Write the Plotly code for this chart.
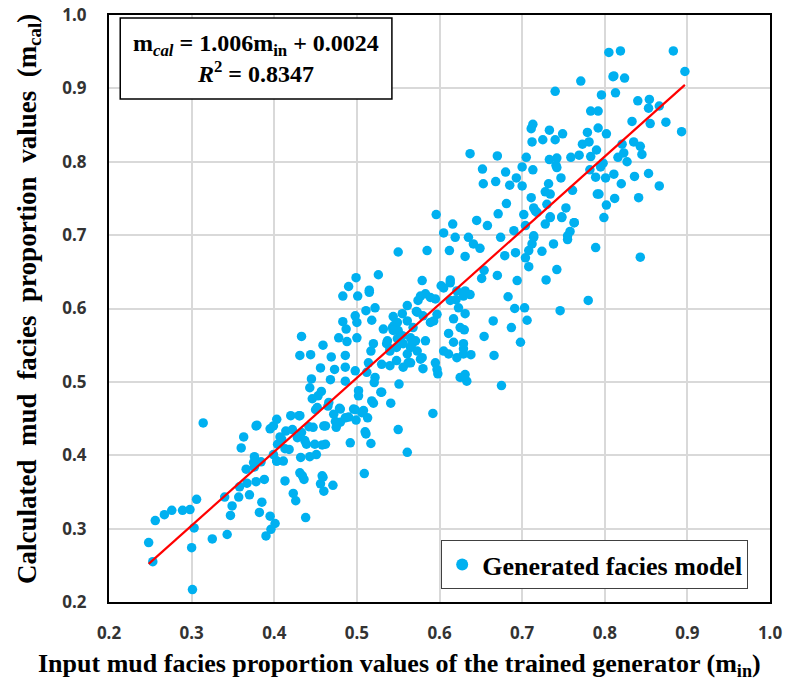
import plotly.graph_objects as go

# values (input m_in, calculated m_cal)
x_in = [
    0.314, 0.248, 0.253, 0.256, 0.267, 0.276, 0.289, 0.298, 0.306, 0.303, 0.300, 0.301,
    0.325, 0.343, 0.347, 0.349, 0.340, 0.357, 0.370, 0.358, 0.367, 0.378, 0.388, 0.385,
    0.382, 0.395, 0.401, 0.396, 0.390, 0.366, 0.376, 0.376, 0.384, 0.360, 0.363, 0.378,
    0.395, 0.403, 0.420, 0.430, 0.399, 0.404, 0.409, 0.414, 0.418, 0.403, 0.411, 0.413,
    0.423, 0.426, 0.438, 0.432, 0.431, 0.436, 0.428, 0.433, 0.439, 0.447, 0.449, 0.451,
    0.460, 0.462, 0.458, 0.456, 0.460, 0.452, 0.465,
    # middle band
    0.490, 0.483, 0.501, 0.515, 0.511, 0.522, 0.498, 0.500, 0.483, 0.487, 0.518, 0.532,
    0.433, 0.459, 0.478, 0.488, 0.500, 0.431, 0.444, 0.469, 0.486, 0.456, 0.473, 0.486,
    0.498, 0.517, 0.520, 0.512, 0.522, 0.521, 0.514, 0.530, 0.445, 0.468, 0.486, 0.443,
    0.457, 0.453, 0.446, 0.450, 0.466, 0.479, 0.498, 0.508, 0.502, 0.520, 0.530, 0.541,
    0.592, 0.550, 0.561, 0.517, 0.492, 0.511, 0.509, 0.379, 0.399, 0.407, 0.431, 0.422,
    0.442, 0.462, 0.474, 0.486, 0.437, 0.458, 0.413, 0.443, 0.403, 0.375, 0.434, 0.459,
    # lower middle
    0.675, 0.633, 0.551, 0.529, 0.502, 0.518, 0.510, 0.471, 0.496, 0.506, 0.513, 0.499,
    0.490, 0.480, 0.480, 0.475, 0.472,
    # upper middle
    0.653, 0.668, 0.685, 0.700, 0.728, 0.734, 0.732, 0.761, 0.791, 0.711, 0.681, 0.702,
    0.716, 0.734, 0.748, 0.763, 0.755, 0.738, 0.724, 0.742, 0.729, 0.780, 0.746, 0.789,
    0.596, 0.616, 0.645, 0.658, 0.671, 0.605, 0.619, 0.635, 0.641, 0.674, 0.690, 0.704,
    0.714, 0.708, 0.550, 0.585, 0.612, 0.631, 0.649, 0.654, 0.679, 0.692, 0.704, 0.708,
    0.670, 0.694, 0.651, 0.613, 0.602, 0.579, 0.577, 0.589, 0.631, 0.637, 0.620, 0.561,
    0.555, 0.545, 0.572, 0.593, 0.617, 0.631, 0.683, 0.691, 0.703, 0.706, 0.665, 0.687,
    0.630, 0.654, 0.698, 0.666, 0.629, 0.638, 0.611, 0.597, 0.631, 0.583, 0.579, 0.567,
    0.562, 0.537, 0.540, 0.540,
    # dense centre
    0.544, 0.549, 0.543, 0.550, 0.555, 0.549, 0.544, 0.561, 0.568, 0.565, 0.571, 0.573,
    0.580, 0.589, 0.597, 0.574, 0.583, 0.595, 0.605, 0.613, 0.621, 0.629, 0.613, 0.623,
    0.536, 0.540, 0.548, 0.556, 0.565, 0.561, 0.573, 0.548, 0.556, 0.565, 0.577, 0.580,
    0.598, 0.595, 0.605, 0.621, 0.629, 0.625, 0.611, 0.625, 0.629, 0.617,
    0.499, 0.526, 0.515,
    0.637, 0.670, 0.652, 0.680, 0.693, 0.700,
    # upper right
    0.897, 0.771, 0.740, 0.811, 0.824, 0.813, 0.796, 0.783, 0.792, 0.840, 0.854, 0.853,
    0.866, 0.833, 0.855, 0.874, 0.893, 0.713, 0.711, 0.733, 0.749, 0.740, 0.725, 0.712,
    0.779, 0.792, 0.802, 0.773, 0.781, 0.790, 0.783, 0.769, 0.759, 0.705, 0.733, 0.742,
    0.741, 0.742, 0.713, 0.747, 0.821, 0.835, 0.843, 0.845, 0.827, 0.823, 0.816, 0.782,
    0.795, 0.798, 0.789, 0.801, 0.811, 0.836, 0.853, 0.866, 0.820, 0.793, 0.812, 0.841,
    0.802, 0.799, 0.753, 0.748, 0.763, 0.758, 0.755, 0.843, 0.714, 0.718, 0.730, 0.734,
    0.728, 0.714, 0.712, 0.805, 0.819, 0.883, 0.810,
]
y_cal = [
    0.444, 0.281, 0.255, 0.311, 0.319, 0.325, 0.325, 0.326, 0.340, 0.301, 0.274, 0.217,
    0.286, 0.292, 0.318, 0.331, 0.343, 0.343, 0.346, 0.357, 0.362, 0.364, 0.367, 0.336,
    0.322, 0.317, 0.307, 0.299, 0.290, 0.381, 0.384, 0.398, 0.391, 0.410, 0.425, 0.440,
    0.436, 0.449, 0.454, 0.454, 0.401, 0.415, 0.422, 0.433, 0.408, 0.392, 0.392, 0.365,
    0.348, 0.338, 0.315, 0.397, 0.376, 0.367, 0.424, 0.431, 0.415, 0.438, 0.415, 0.401,
    0.440, 0.415, 0.372, 0.361, 0.351, 0.465, 0.467,
    # middle band
    0.630, 0.617, 0.617, 0.622, 0.597, 0.601, 0.590, 0.581, 0.582, 0.572, 0.584, 0.572,
    0.562, 0.550, 0.560, 0.555, 0.560, 0.536, 0.537, 0.534, 0.536, 0.519, 0.517, 0.520,
    0.515, 0.542, 0.552, 0.513, 0.506, 0.499, 0.526, 0.524, 0.504, 0.503, 0.501, 0.492,
    0.487, 0.481, 0.477, 0.462, 0.472, 0.464, 0.462, 0.461, 0.481, 0.471, 0.486, 0.471,
    0.457, 0.435, 0.404, 0.416, 0.417, 0.429, 0.375, 0.441, 0.440, 0.425, 0.454, 0.435,
    0.439, 0.440, 0.446, 0.451, 0.420, 0.414, 0.409, 0.398, 0.392, 0.390, 0.372, 0.370,
    # lower middle
    0.495, 0.501, 0.497, 0.486, 0.488, 0.474, 0.432, 0.359, 0.463, 0.458, 0.451, 0.448,
    0.452, 0.463, 0.445, 0.438, 0.456,
    # upper middle
    0.770, 0.773, 0.768, 0.767, 0.759, 0.756, 0.770, 0.761, 0.756, 0.751, 0.743, 0.728,
    0.733, 0.725, 0.725, 0.717, 0.699, 0.688, 0.678, 0.653, 0.639, 0.611, 0.597, 0.683,
    0.728, 0.715, 0.720, 0.713, 0.729, 0.703, 0.697, 0.697, 0.688, 0.697, 0.706, 0.713,
    0.697, 0.679, 0.677, 0.679, 0.679, 0.671, 0.682, 0.652, 0.672, 0.676, 0.669, 0.657,
    0.645, 0.638, 0.641, 0.639, 0.631, 0.638, 0.617, 0.615, 0.624, 0.619, 0.612, 0.604,
    0.593, 0.577, 0.596, 0.583, 0.586, 0.593, 0.616, 0.600, 0.601, 0.584, 0.583, 0.574,
    0.571, 0.562, 0.554, 0.536, 0.545, 0.537, 0.538, 0.517, 0.510, 0.556, 0.533, 0.552,
    0.526, 0.556, 0.542, 0.522,
    # dense centre
    0.589, 0.581, 0.574, 0.570, 0.563, 0.559, 0.570, 0.583, 0.574, 0.560, 0.556, 0.595,
    0.590, 0.581, 0.592, 0.611, 0.620, 0.613, 0.628, 0.635, 0.624, 0.617, 0.611, 0.601,
    0.552, 0.545, 0.547, 0.552, 0.547, 0.538, 0.542, 0.529, 0.520, 0.526, 0.531, 0.518,
    0.511, 0.526, 0.542, 0.533, 0.538, 0.506, 0.566, 0.574, 0.552, 0.554,
    0.642, 0.646, 0.625,
    0.811, 0.808, 0.790, 0.786, 0.778, 0.793,
    # upper right
    0.923, 0.910, 0.896, 0.917, 0.914, 0.894, 0.891, 0.869, 0.869, 0.883, 0.885, 0.873,
    0.876, 0.855, 0.852, 0.854, 0.841, 0.851, 0.845, 0.843, 0.838, 0.830, 0.830, 0.827,
    0.840, 0.846, 0.838, 0.824, 0.827, 0.816, 0.807, 0.809, 0.806, 0.806, 0.803, 0.805,
    0.795, 0.792, 0.789, 0.778, 0.824, 0.827, 0.821, 0.810, 0.800, 0.812, 0.806, 0.789,
    0.793, 0.798, 0.779, 0.778, 0.783, 0.780, 0.784, 0.767, 0.770, 0.756, 0.750, 0.751,
    0.741, 0.724, 0.737, 0.724, 0.717, 0.705, 0.694, 0.670, 0.737, 0.731, 0.742, 0.724,
    0.715, 0.699, 0.688, 0.949, 0.951, 0.951, 0.916,
]

# linear fit reported in the chart
fit_slope = 1.006
fit_intercept = 0.0024
r_squared = 0.8347

x_title = "Input mud facies proportion values of the trained generator (m<sub>in</sub>)"
y_title = ("Calculated&nbsp; mud&nbsp; facies&nbsp; proportion&nbsp; values&nbsp; "
           "(m<sub>cal</sub>)")
legend_name = "Generated facies model"

fit_x = [min(x_in), max(x_in)]
fit_y = [fit_slope * v + fit_intercept for v in fit_x]

fig = go.Figure()

fig.add_trace(go.Scatter(
    x=x_in, y=y_cal, mode="markers", name=legend_name,
    marker=dict(color="#00B0F0", size=9.5, line=dict(width=0)),
))
fig.add_trace(go.Scatter(
    x=fit_x, y=fit_y, mode="lines", showlegend=False,
    line=dict(color="#FF0000", width=2.2),
))

tick_font = dict(family="Noto Sans", size=17, color="#333333", weight="bold")

axis_common = dict(
    range=[0.2, 1.0], dtick=0.1, tickformat=".1f",
    showgrid=True, gridcolor="#D9D9D9", gridwidth=1.5,
    zeroline=False, showline=True, linecolor="black", linewidth=2, mirror=True,
    ticks="", tickfont=tick_font, automargin=False, ticklabeloverflow="allow",
)
fig.update_xaxes(**axis_common, ticklabelstandoff=15)
fig.update_yaxes(**axis_common, ticklabelstandoff=17)

# axis titles placed as annotations so they can sit off-centre like the original
fig.add_annotation(xref="paper", yref="paper", x=0.439, y=-0.107,
                   xanchor="center", yanchor="middle", showarrow=False,
                   text=x_title,
                   font=dict(family="Liberation Serif", size=26, color="black", weight="bold"))
fig.add_annotation(xref="paper", yref="paper", x=-0.122, y=0.517,
                   xanchor="center", yanchor="middle", showarrow=False, textangle=-90,
                   text=y_title,
                   font=dict(family="Liberation Serif", size=27, color="black", weight="bold"))

# equation box
fig.add_shape(type="rect", xref="paper", yref="paper",
              x0=0.017, x1=0.428, y0=0.857, y1=0.995,
              line=dict(color="black", width=1.5), fillcolor="white", layer="above")
fig.add_annotation(
    xref="paper", yref="paper", x=0.2225, y=0.926, xanchor="center", yanchor="middle",
    showarrow=False,
    text=(f"m<sub><i>cal</i></sub> = {fit_slope:.3f}m<sub>in</sub> + {fit_intercept:.4f}"
          f"<br><i>R</i><sup>2</sup> = {r_squared:.4f}"),
    font=dict(family="Liberation Serif", size=24, color="black", weight="bold"),
    align="center",
)

# the page adds an 8px body margin, so the figure is sized to fit inside it
fig.update_layout(
    width=787, height=673,
    margin=dict(l=101, r=25, t=7, b=79),
    plot_bgcolor="white", paper_bgcolor="white",
    legend=dict(
        x=0.967, y=0.022, xanchor="right", yanchor="bottom",
        bgcolor="white", bordercolor="#404040", borderwidth=1,
        font=dict(family="Liberation Serif", size=26, color="black", weight="bold"),
        itemsizing="constant",
    ),
)

fig.write_html("out.html")
